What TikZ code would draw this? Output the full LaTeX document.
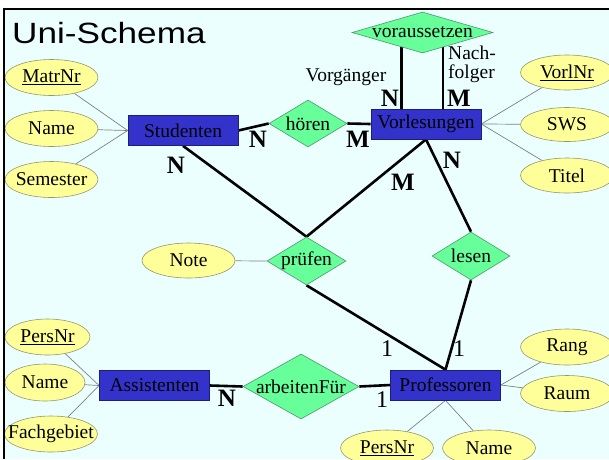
\documentclass[tikz,border=0pt]{standalone}
\usepackage{fontspec}
\setmainfont{Liberation Serif}
\newfontfamily\titlefont{Liberation Sans}
\usetikzlibrary{shapes.geometric,backgrounds}
\definecolor{bgc}{RGB}{236,255,255}
\definecolor{attrfill}{RGB}{255,255,153}
\definecolor{attrline}{RGB}{150,150,110}
\definecolor{relfill}{RGB}{102,255,153}
\definecolor{relline}{RGB}{80,150,110}
\definecolor{entfill}{RGB}{51,51,204}
\definecolor{entline}{RGB}{30,30,120}
\begin{document}
\begin{tikzpicture}[x=1pt,y=-1pt,
 every node/.style={font=\fontsize{19.5}{20}\selectfont},
 entity/.style={rectangle, draw=entline, line width=0.7pt, fill=entfill, inner sep=0pt, minimum width=110pt, minimum height=30pt},
 attr/.style={ellipse, draw=attrline, line width=0.6pt, fill=attrfill, inner sep=0pt, minimum width=93pt, minimum height=36pt, label={[txt]center:#1}},
 rel/.style={diamond, draw=relline, line width=0.6pt, fill=relfill, inner sep=0pt, label={[txt]center:#1}},
 txt/.style={inner sep=0pt},
 conn/.style={line width=2.6pt},
 attrconn/.style={draw=gray, line width=0.7pt},
 card/.style={font=\fontsize{25}{25}\selectfont\bfseries, inner sep=0pt},
 one/.style={font=\fontsize{24}{24}\selectfont, inner sep=0pt}
]
\useasboundingbox (0,0) rectangle (609,459);

% entities
\node[entity] (stud) at (183,130.5) {Studenten};
\node[entity] (vorl) at (426,124) {Vorlesungen};
\node[entity] (prof) at (445.5,385) {Professoren};
\node[entity] (assi) at (154.5,385.5) {Assistenten};

% relationships
\node[rel=hören, minimum width=78pt, minimum height=47pt] (hoer) at (308,123.5) {};
\node[rel=voraussetzen, minimum width=141pt, minimum height=41pt] (vor) at (422.5,32.5) {};
\node[rel=prüfen, minimum width=79pt, minimum height=48pt] (pruef) at (306.5,261) {};
\node[rel=lesen, minimum width=78pt, minimum height=48pt] (les) at (471,256) {};
\node[rel=arbeitenFür, minimum width=116pt, minimum height=65pt] (arb) at (301,386.5) {};

% attributes
\node[attr={\underline{MatrNr}}] (matr) at (51.5,77.5) {};
\node[attr=Name] (sname) at (51.5,128.5) {};
\node[attr=Semester] (sem) at (51.5,179.5) {};
\node[attr={\underline{VorlNr}}, minimum height=35pt] (vnr) at (567,72.5) {};
\node[attr=SWS, minimum height=34pt] (sws) at (567,124.5) {};
\node[attr=Titel, minimum height=35pt] (titel) at (567,175.5) {};
\node[attr=Note, minimum height=35pt] (note) at (188.5,260.5) {};
\node[attr=Rang] (rang) at (567,347) {};
\node[attr=Raum] (raum) at (567,393.5) {};
\node[attr={\underline{PersNr}}] (ppers) at (387,448) {};
\node[attr=Name] (pname) at (489,448) {};
\node[attr={\underline{PersNr}}, minimum width=85pt] (apers) at (47.5,337) {};
\node[attr=Name, minimum width=80pt, minimum height=37pt] (aname) at (45,382.5) {};
\node[attr=Fachgebiet] (fach) at (51,434) {};

% title and labels
\node[font=\titlefont\fontsize{29.3}{30}\selectfont, anchor=base west, inner sep=0pt] (title) at (12,43) {\scalebox{1.2}[1]{Uni-Schema}};
\node[card] (n1) at (258,139) {N};
\node[card] (m1) at (358,139) {M};
\node[card] (n2) at (176,165) {N};
\node[card] (m2) at (403,182) {M};
\node[card] (n3) at (452,160) {N};
\node[card] (n4) at (390,98) {N};
\node[card] (m3) at (459,98) {M};
\node[card] (n5) at (227,398) {N};
\node[one] (o1) at (387,349) {1};
\node[one] (o2) at (459,349) {1};
\node[one] (o3) at (382,400) {1};
\node[anchor=base, inner sep=0pt] (vg) at (346,81) {Vorgänger};
\node[anchor=base west, inner sep=0pt] (nf1) at (448,59) {Nach-};
\node[anchor=base west, inner sep=0pt] (nf2) at (448,78) {folger};

\begin{pgfonlayer}{background}
\fill[white] (0,0) rectangle (609,459);
\fill[bgc] (4,9) rectangle (609,459);
% attribute connectors
\draw[attrconn] (stud.west) -- (matr);
\draw[attrconn] (stud.west) -- (sname);
\draw[attrconn] (stud.west) -- (sem);
\draw[attrconn] (vorl.east) -- (vnr);
\draw[attrconn] (vorl.east) -- (sws);
\draw[attrconn] (vorl.east) -- (titel);
\draw[attrconn] (prof.east) -- (rang);
\draw[attrconn] (prof.east) -- (raum);
\draw[attrconn] (prof.south) -- (ppers);
\draw[attrconn] (prof.south) -- (pname);
\draw[attrconn] (assi.west) -- (apers);
\draw[attrconn] (assi.west) -- (aname);
\draw[attrconn] (assi.west) -- (fach);
\draw[attrconn] (note) -- (pruef.west);
% relationship connectors
\draw[conn] (stud.east) -- (hoer.west);
\draw[conn] (hoer.east) -- (vorl.west);
\draw[conn] (stud.south) -- (pruef.north);
\draw[conn] (vorl.south) -- (pruef.north);
\draw[conn] (vorl.south) -- (les.north);
\draw[conn] (pruef.south) -- (prof.north);
\draw[conn] (les.south) -- (prof.north);
\draw[conn] (assi.east) -- (arb.west);
\draw[conn] (arb.east) -- (prof.west);
\draw[conn] (vor.-145.7) -- (vor.-145.7 |- vorl.north);
\draw[conn] (vor.-36.3) -- (vor.-36.3 |- vorl.north);
\end{pgfonlayer}

\draw[line width=2.5pt] (4,459) -- (4,9) -- (609,9);
\end{tikzpicture}
\end{document}
